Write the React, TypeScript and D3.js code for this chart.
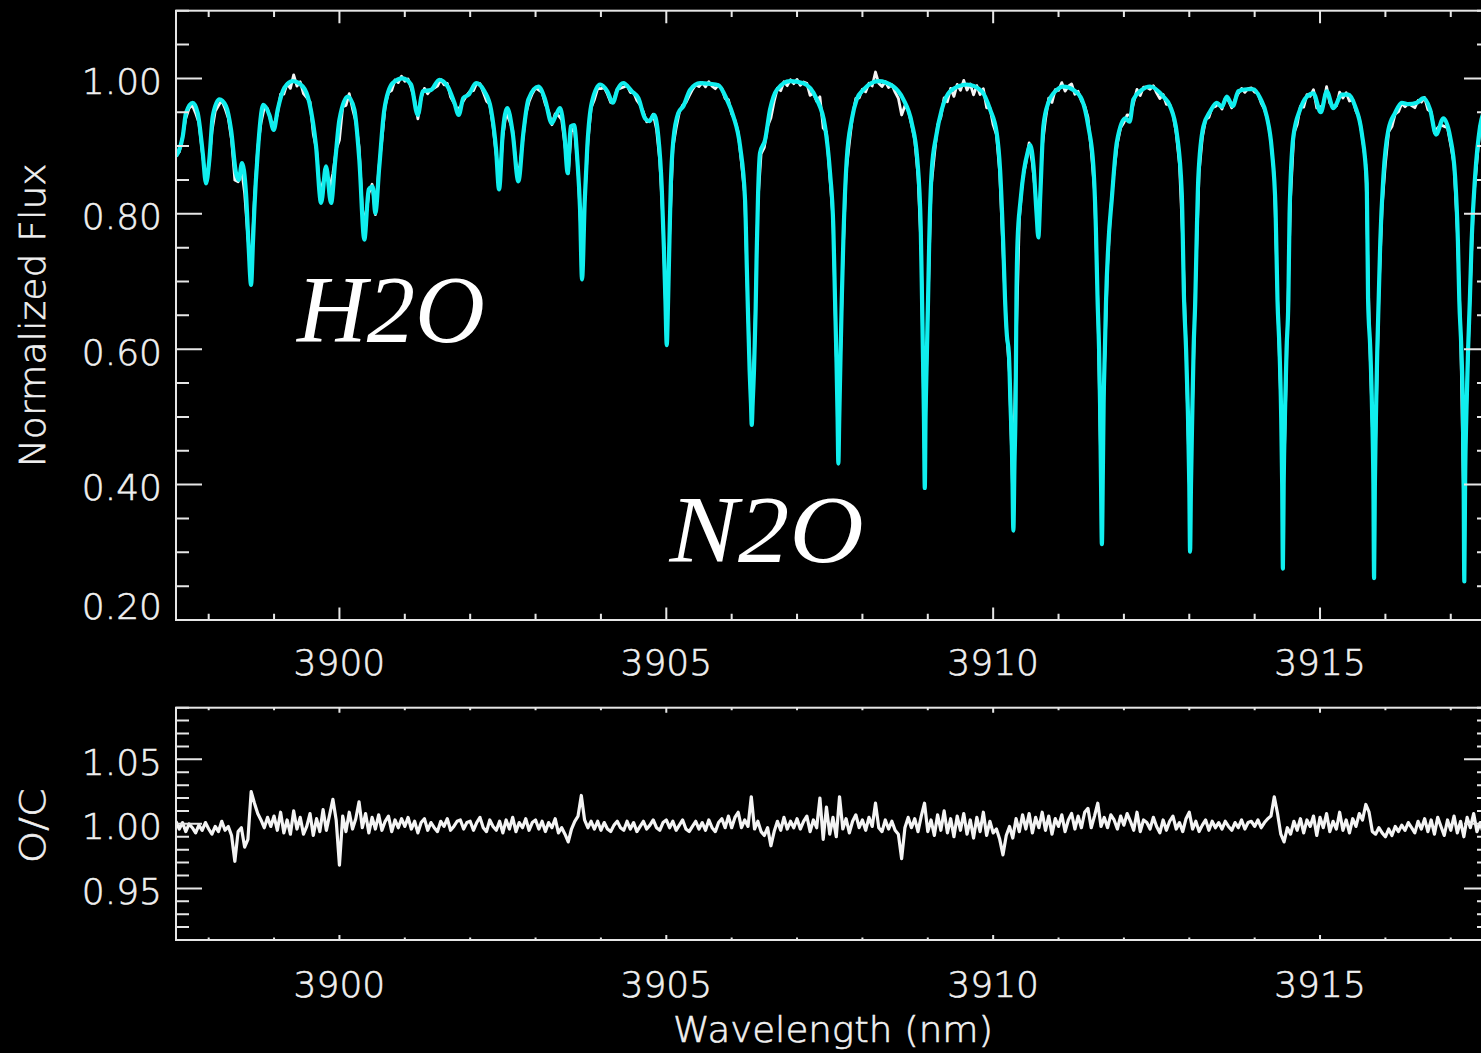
import React from 'react';
import * as d3 from 'd3';

// Fitted telluric model (wavelength in nm, normalized flux), sampled at the
// continuum maxima, line cores and shoulders of each feature.
const modelSpectrum: [number, number][] = [
  [3897.5, 0.885], [3897.551, 0.895], [3897.603, 0.914], [3897.653, 0.949], [3897.756, 0.964],
  [3897.832, 0.949], [3897.909, 0.89], [3897.959, 0.845], [3898.01, 0.88], [3898.062, 0.944],
  [3898.163, 0.969], [3898.265, 0.959], [3898.342, 0.924], [3898.418, 0.86], [3898.46, 0.85],
  [3898.51, 0.875], [3898.571, 0.83], [3898.612, 0.75], [3898.648, 0.695], [3898.678, 0.76],
  [3898.698, 0.806], [3898.75, 0.89], [3898.836, 0.961], [3898.928, 0.946], [3898.995, 0.924],
  [3899.056, 0.954], [3899.157, 0.986], [3899.286, 0.996], [3899.439, 0.988], [3899.54, 0.964],
  [3899.642, 0.9], [3899.719, 0.816], [3899.795, 0.87], [3899.872, 0.816], [3899.937, 0.88],
  [3900.0, 0.939], [3900.127, 0.973], [3900.228, 0.954], [3900.304, 0.88], [3900.381, 0.762],
  [3900.448, 0.836], [3900.509, 0.84], [3900.549, 0.801], [3900.61, 0.87], [3900.687, 0.954],
  [3900.815, 0.993], [3900.968, 1.0], [3901.095, 0.991], [3901.198, 0.946], [3901.274, 0.981],
  [3901.401, 0.983], [3901.528, 0.998], [3901.657, 0.988], [3901.758, 0.964], [3901.825, 0.946],
  [3901.895, 0.971], [3901.978, 0.976], [3902.09, 0.993], [3902.217, 0.981], [3902.319, 0.954],
  [3902.396, 0.895], [3902.442, 0.836], [3902.498, 0.919], [3902.568, 0.956], [3902.651, 0.919],
  [3902.737, 0.848], [3902.813, 0.919], [3902.89, 0.969], [3903.043, 0.988], [3903.145, 0.969],
  [3903.248, 0.934], [3903.313, 0.946], [3903.375, 0.956], [3903.44, 0.919], [3903.492, 0.86],
  [3903.538, 0.929], [3903.589, 0.931], [3903.639, 0.88], [3903.681, 0.806], [3903.711, 0.703],
  [3903.753, 0.821], [3903.792, 0.9], [3903.86, 0.964], [3903.987, 0.991], [3904.098, 0.981],
  [3904.181, 0.964], [3904.251, 0.983], [3904.343, 0.993], [3904.472, 0.981], [3904.572, 0.971],
  [3904.675, 0.941], [3904.741, 0.937], [3904.813, 0.946], [3904.878, 0.914], [3904.93, 0.84],
  [3904.963, 0.75], [3904.987, 0.67], [3905.007, 0.606], [3905.027, 0.67], [3905.048, 0.76],
  [3905.068, 0.84], [3905.108, 0.909], [3905.184, 0.949], [3905.261, 0.959], [3905.363, 0.983],
  [3905.516, 0.993], [3905.669, 0.992], [3905.796, 0.99], [3905.925, 0.969], [3906.026, 0.944],
  [3906.128, 0.9], [3906.205, 0.82], [3906.232, 0.72], [3906.248, 0.66], [3906.274, 0.57],
  [3906.295, 0.52], [3906.307, 0.488], [3906.321, 0.52], [3906.342, 0.57], [3906.367, 0.66],
  [3906.382, 0.74], [3906.404, 0.83], [3906.434, 0.89], [3906.511, 0.909], [3906.587, 0.954],
  [3906.69, 0.983], [3906.893, 0.996], [3907.097, 0.993], [3907.302, 0.969], [3907.428, 0.929],
  [3907.505, 0.86], [3907.555, 0.78], [3907.581, 0.673], [3907.604, 0.58], [3907.62, 0.5],
  [3907.632, 0.431], [3907.646, 0.5], [3907.663, 0.58], [3907.684, 0.673], [3907.708, 0.76],
  [3907.76, 0.88], [3907.837, 0.939], [3907.913, 0.969], [3908.014, 0.983], [3908.244, 0.996],
  [3908.473, 0.988], [3908.626, 0.969], [3908.755, 0.934], [3908.84, 0.88], [3908.892, 0.781],
  [3908.912, 0.673], [3908.928, 0.58], [3908.941, 0.5], [3908.954, 0.395], [3908.966, 0.5],
  [3908.983, 0.58], [3909.004, 0.673], [3909.022, 0.76], [3909.061, 0.865], [3909.127, 0.914],
  [3909.214, 0.954], [3909.341, 0.981], [3909.596, 0.991], [3909.826, 0.981], [3909.953, 0.954],
  [3910.055, 0.919], [3910.106, 0.865], [3910.156, 0.75], [3910.182, 0.673], [3910.21, 0.62],
  [3910.24, 0.595], [3910.263, 0.525], [3910.292, 0.43], [3910.309, 0.332], [3910.326, 0.43],
  [3910.344, 0.525], [3910.356, 0.673], [3910.373, 0.76], [3910.419, 0.82], [3910.473, 0.865],
  [3910.526, 0.89], [3910.564, 0.902], [3910.618, 0.87], [3910.664, 0.8], [3910.691, 0.765],
  [3910.722, 0.83], [3910.768, 0.929], [3910.844, 0.964], [3910.973, 0.983], [3911.074, 0.988],
  [3911.227, 0.983], [3911.355, 0.969], [3911.456, 0.929], [3911.533, 0.87], [3911.571, 0.78],
  [3911.597, 0.673], [3911.62, 0.6], [3911.635, 0.52], [3911.648, 0.42], [3911.663, 0.312],
  [3911.678, 0.42], [3911.69, 0.52], [3911.709, 0.6], [3911.727, 0.673], [3911.765, 0.76],
  [3911.814, 0.821], [3911.891, 0.905], [3912.018, 0.941], [3912.087, 0.936], [3912.145, 0.969],
  [3912.273, 0.983], [3912.4, 0.988], [3912.604, 0.973], [3912.706, 0.959], [3912.809, 0.919],
  [3912.885, 0.831], [3912.92, 0.673], [3912.951, 0.6], [3912.978, 0.51], [3913.0, 0.4],
  [3913.012, 0.301], [3913.026, 0.4], [3913.047, 0.51], [3913.066, 0.6], [3913.092, 0.673],
  [3913.112, 0.76], [3913.139, 0.855], [3913.216, 0.929], [3913.318, 0.951], [3913.421, 0.964],
  [3913.497, 0.958], [3913.574, 0.973], [3913.665, 0.959], [3913.751, 0.981], [3913.879, 0.984],
  [3913.98, 0.984], [3914.083, 0.971], [3914.185, 0.944], [3914.262, 0.895], [3914.32, 0.806],
  [3914.349, 0.673], [3914.38, 0.6], [3914.404, 0.51], [3914.421, 0.4], [3914.432, 0.276],
  [3914.444, 0.4], [3914.465, 0.51], [3914.488, 0.6], [3914.516, 0.673], [3914.534, 0.8],
  [3914.592, 0.914], [3914.695, 0.954], [3914.797, 0.973], [3914.898, 0.978], [3915.011, 0.95],
  [3915.103, 0.981], [3915.204, 0.956], [3915.333, 0.976], [3915.434, 0.976], [3915.536, 0.959],
  [3915.639, 0.919], [3915.715, 0.845], [3915.735, 0.673], [3915.769, 0.6], [3915.796, 0.51],
  [3915.816, 0.4], [3915.827, 0.262], [3915.839, 0.4], [3915.857, 0.51], [3915.876, 0.6],
  [3915.897, 0.673], [3915.922, 0.76], [3915.969, 0.855], [3916.046, 0.924], [3916.148, 0.949],
  [3916.251, 0.964], [3916.352, 0.962], [3916.48, 0.964], [3916.581, 0.971], [3916.684, 0.954],
  [3916.775, 0.917], [3916.887, 0.941], [3916.989, 0.914], [3917.066, 0.855], [3917.109, 0.76],
  [3917.13, 0.673], [3917.162, 0.6], [3917.185, 0.51], [3917.197, 0.4], [3917.207, 0.257],
  [3917.219, 0.4], [3917.24, 0.51], [3917.265, 0.6], [3917.292, 0.673], [3917.318, 0.757],
  [3917.372, 0.855], [3917.448, 0.929], [3917.525, 0.955], [3917.601, 0.968],
];

// Observed / computed ratio on a regular 0.05 nm grid starting at ocStart,
// stored as the departure from unity in units of 0.001.
const ocStart = 3897.5;
const ocStep = 0.05;
const ocMilli = [
  2, -4, 1, -6, 0, -3, -7, -1, -5, 1,
  -4, -8, -2, -6, 2, -5, -2, -9, -29, -6,
  -3, -18, -12, 25, 16, 8, 3, -3, 5, -2,
  6, -5, 9, -7, 3, -8, 10, -4, 5, -8,
  -2, 8, -9, 4, -6, 11, -5, 7, 19, 3,
  -32, 6, -6, 9, -4, 4, 17, -3, 8, -7,
  5, -4, 7, -5, 2, 6, -6, 3, -3, 4,
  -2, 5, -4, 2, -7, 1, 4, -5, 1, -3,
  -6, 2, -2, 4, -5, -2, 2, 3, -4, 1,
  2, -5, 1, 5, -3, -6, 3, -2, -5, 2,
  -7, 3, -4, 5, -6, 1, -3, 4, -5, 1,
  3, -4, 2, -6, 1, -3, 4, -7, -3, -8,
  -14, -4, 2, 6, 22, 3, -3, 2, -4, 2,
  -5, 1, -4, -6, -1, 2, -3, -5, 2, -4,
  1, -6, -2, 2, -4, -1, 3, -3, -5, 1,
  3, -3, 2, -5, -1, 3, -4, -6, -2, 2,
  -4, 1, -5, 3, -3, -6, 1, 4, -3, 6,
  -3, 5, 9, -3, 3, -2, 21, -4, 2, -6,
  -9, -3, -17, -6, 2, -5, 5, -4, 2, -3,
  4, -4, 2, 6, -6, 3, -3, 20, -12, 13,
  -8, 5, -10, 21, -4, 4, -7, 2, 7, -3,
  3, -5, 5, -2, 16, -3, -6, 3, -4, 2,
  -5, -8, -27, -3, 5, -3, 4, -6, 6, 16,
  -6, 3, -9, 7, -5, 10, -7, 4, -10, 6,
  -5, 8, -8, 3, -11, 5, -6, 9, -9, 2,
  -7, -4, -12, -24, -9, -2, -11, 4, -6, 7,
  -4, 8, -7, 5, -3, 9, -5, 6, -8, 4,
  -2, 7, -6, 3, 8, -4, 6, -3, 9, 12,
  -3, 6, 16, -2, 5, -3, 7, 3, -4, 6,
  -1, 8, 2, -5, 9, -6, 3, 1, -4, 5,
  -2, -7, 3, -5, 2, 6, -4, 1, -6, 4,
  9, -4, 2, -6, -1, 3, -5, 2, -3, 1,
  -4, 2, -2, -5, 1, -3, 3, -4, 1, 2,
  -2, 3, -3, 1, 4, 6, 21, 8, -8, -14,
  -3, -8, 2, -5, 4, -7, 3, -2, 6, -9,
  5, -3, 8, -6, 2, -4, 9, -5, 3, -7,
  4, -2, 8, 3, 15, 9, -6, -8, -3, -7,
  -10, -4, -9, -2, -6, -1, -5, 1, -3, -7,
  2, -4, 4, -6, 3, -8, 5, -2, -9, 3,
  -5, 6, -7, 2, -10, 5, -3, 8, -6, 1, -8, 3, -4,
];

const waveDomain: [number, number] = [3897.5, 3917.6];
const fluxDomain: [number, number] = [0.2, 1.1];
const ocDomain: [number, number] = [0.91, 1.09];

const waveMajorTicks = [3900, 3905, 3910, 3915];
const fluxMajorTicks = [0.2, 0.4, 0.6, 0.8, 1.0];
const ocMajorTicks = [0.95, 1.0, 1.05];

const speciesLabels = [
  { text: 'H2O', wave: 3899.35, flux: 0.61, width: 188 },
  { text: 'N2O', wave: 3905.05, flux: 0.285, width: 194 },
];

const WIDTH = 1481;
const HEIGHT = 1053;
const LEFT = 176;
const RIGHT = 1490;
const TOP_PANEL = { top: 10.7, bottom: 620 };
const BOTTOM_PANEL = { top: 707.7, bottom: 940 };

const AXIS = '#e6e6e6';
const TEXT = '#f0f0f0';
const CYAN = '#10eeee';
const FONT = "'DejaVu Sans', sans-serif";

const labelStyle = {
  fontFamily: FONT,
  fontSize: 36,
  fontWeight: 300,
  fill: TEXT,
  stroke: TEXT,
  strokeWidth: 0.6,
} as const;

type Scale = d3.ScaleLinear<number, number>;

function Frame({ x, y, top, bottom, yMajor, xTickLen, yFormat, xLabelBaseline, clampLabel }: {
  x: Scale; y: Scale; top: number; bottom: number; yMajor: number[];
  xTickLen: number; yFormat: (v: number) => string; xLabelBaseline: number; clampLabel: boolean;
}) {
  const yLen = 26;
  const xMinor = x.ticks(20);
  const yMinor = y.ticks(18);
  const segs: string[] = [];
  xMinor.forEach((t) => {
    const major = waveMajorTicks.includes(t);
    const len = major ? xTickLen : xTickLen / 2;
    const px = x(t);
    segs.push(`M${px},${bottom}V${bottom - len}`);
    segs.push(`M${px},${top}V${top + len}`);
  });
  yMinor.forEach((t) => {
    const major = yMajor.some((m) => Math.abs(m - t) < 1e-9);
    const len = major ? yLen : yLen / 2;
    const py = y(t);
    segs.push(`M${LEFT},${py}H${LEFT + len}`);
    segs.push(`M${RIGHT},${py}H${RIGHT - len}`);
  });
  return (
    <g>
      <rect x={LEFT} y={top} width={RIGHT - LEFT} height={bottom - top} fill="none" stroke={AXIS} strokeWidth={2} />
      <path d={segs.join('')} stroke={AXIS} strokeWidth={2} fill="none" />
      {yMajor.map((t) => {
        let base = y(t) + 15.6;
        if (clampLabel) base = Math.min(base, bottom - 1);
        return (
          <text key={t} x={162} y={base} textAnchor="end" {...labelStyle}>
            {yFormat(t)}
          </text>
        );
      })}
      {waveMajorTicks.map((t) => (
        <text key={t} x={x(t)} y={xLabelBaseline} textAnchor="middle" {...labelStyle}>
          {d3.format('d')(t)}
        </text>
      ))}
    </g>
  );
}

export default function App() {
  const x = d3.scaleLinear().domain(waveDomain).range([LEFT, RIGHT]);
  const yFlux = d3.scaleLinear().domain(fluxDomain).range([TOP_PANEL.bottom, TOP_PANEL.top]);
  const yOC = d3.scaleLinear().domain(ocDomain).range([BOTTOM_PANEL.bottom, BOTTOM_PANEL.top]);

  const ocSeries: [number, number][] = ocMilli.map((d, i) => [ocStart + i * ocStep, 1 + d / 1000]);

  // observed flux = computed model x (O/C)
  const waves = modelSpectrum.map((d) => d[0]);
  const modelAt = (w: number) => {
    const j = Math.min(Math.max(d3.bisectLeft(waves, w), 1), waves.length - 1);
    const [w0, f0] = modelSpectrum[j - 1];
    const [w1, f1] = modelSpectrum[j];
    const t = Math.max(0, Math.min(1, (w - w0) / (w1 - w0)));
    return f0 + (f1 - f0) * t;
  };
  const observed: [number, number][] = ocSeries.map(([w, r]) => [w, modelAt(w) * r]);

  const modelLine = d3.line<[number, number]>().x((d) => x(d[0])).y((d) => yFlux(d[1])).curve(d3.curveMonotoneX);
  const obsLine = d3.line<[number, number]>().x((d) => x(d[0])).y((d) => yFlux(d[1]));
  const ocLine = d3.line<[number, number]>().x((d) => x(d[0])).y((d) => yOC(d[1]));

  const fmt2 = d3.format('.2f');

  return (
    <div style={{ position: 'absolute', left: 0, top: 0, width: WIDTH, height: HEIGHT, background: '#000' }}>
      <svg width={WIDTH} height={HEIGHT} viewBox={`0 0 ${WIDTH} ${HEIGHT}`} style={{ display: 'block', background: '#000' }}>
        <defs>
          <clipPath id="clip-top">
            <rect x={LEFT} y={TOP_PANEL.top} width={RIGHT - LEFT} height={TOP_PANEL.bottom - TOP_PANEL.top} />
          </clipPath>
          <clipPath id="clip-bottom">
            <rect x={LEFT} y={BOTTOM_PANEL.top} width={RIGHT - LEFT} height={BOTTOM_PANEL.bottom - BOTTOM_PANEL.top} />
          </clipPath>
        </defs>

        <g clipPath="url(#clip-top)">
          <path d={obsLine(observed) ?? ''} fill="none" stroke="#f4f4f4" strokeWidth={2.8} strokeLinejoin="round" />
          <path d={modelLine(modelSpectrum) ?? ''} fill="none" stroke={CYAN} strokeWidth={4.2} strokeLinejoin="round" />
        </g>
        <g clipPath="url(#clip-bottom)">
          <path d={ocLine(ocSeries) ?? ''} fill="none" stroke="#f4f4f4" strokeWidth={3.2} strokeLinejoin="round" />
        </g>

        <Frame x={x} y={yFlux} top={TOP_PANEL.top} bottom={TOP_PANEL.bottom} yMajor={fluxMajorTicks}
          xTickLen={12.5} yFormat={fmt2} xLabelBaseline={675} clampLabel={true} />
        <Frame x={x} y={yOC} top={BOTTOM_PANEL.top} bottom={BOTTOM_PANEL.bottom} yMajor={ocMajorTicks}
          xTickLen={5} yFormat={fmt2} xLabelBaseline={997} clampLabel={false} />

        <text transform={`translate(45,${(TOP_PANEL.top + TOP_PANEL.bottom) / 2}) rotate(-90)`} textAnchor="middle"
          {...labelStyle} textLength={304} lengthAdjust="spacingAndGlyphs">
          Normalized Flux
        </text>
        <text transform={`translate(45,${(BOTTOM_PANEL.top + BOTTOM_PANEL.bottom) / 2 + 2}) rotate(-90)`} textAnchor="middle"
          {...labelStyle} textLength={75} lengthAdjust="spacingAndGlyphs">
          O/C
        </text>
        <text x={(LEFT + RIGHT) / 2} y={1042} textAnchor="middle" {...labelStyle}
          textLength={320} lengthAdjust="spacingAndGlyphs">
          Wavelength (nm)
        </text>

        {speciesLabels.map((s) => (
          <text key={s.text} x={x(s.wave)} y={yFlux(s.flux)} fontFamily="'Liberation Serif', serif" fontStyle="italic"
            fontSize={96} fill="#ffffff" textLength={s.width} lengthAdjust="spacingAndGlyphs">
            {s.text}
          </text>
        ))}
      </svg>
    </div>
  );
}
